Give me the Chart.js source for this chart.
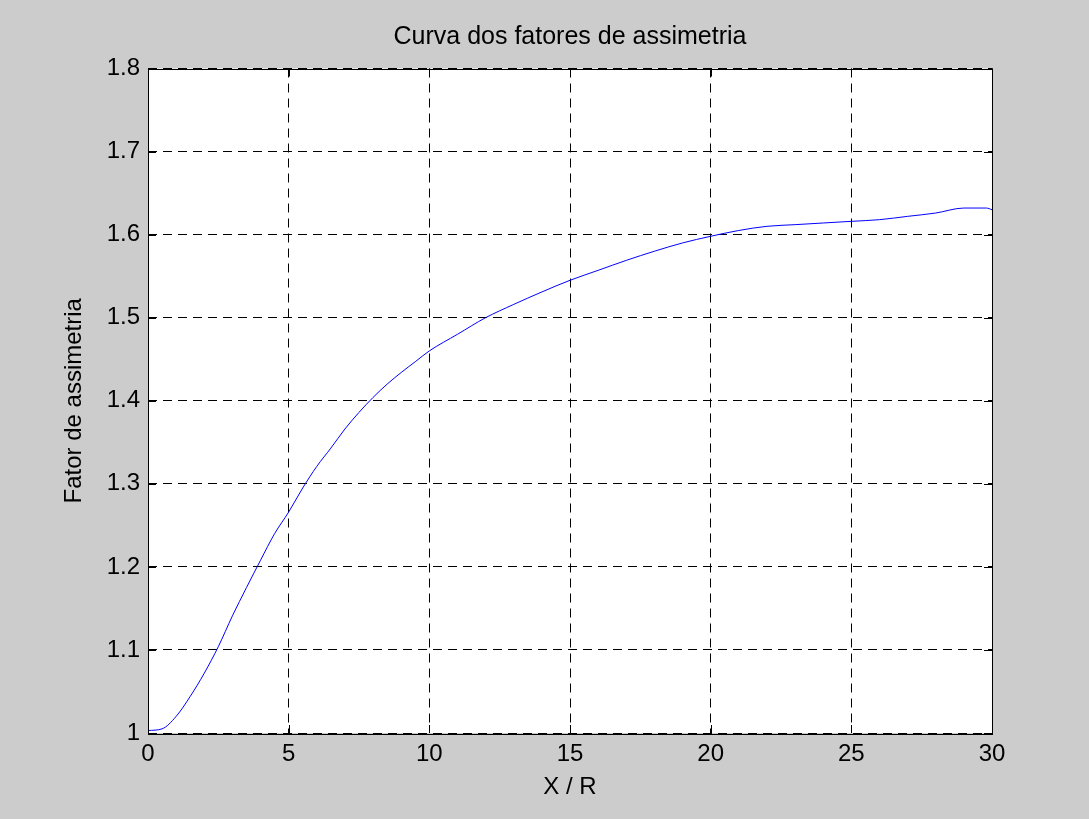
<!DOCTYPE html>
<html lang="pt">
<head>
    <meta charset="UTF-8">
    <title>Curva dos fatores de assimetria</title>
    <script src="https://cdn.jsdelivr.net/npm/chart.js"></script>
    <style>
        html, body { margin: 0; padding: 0; background: #cccccc; }
        #wrap { width: 1089px; height: 819px; }
    </style>
</head>
<body>
    <div id="wrap"><canvas id="chart"></canvas></div>

    <script>
        // valores
        const xValues = [0, 0.5, 1, 1.5, 2, 2.5, 3, 3.5, 4, 4.5, 5, 5.5, 6, 6.5, 7, 7.5, 8, 8.5, 9, 9.5,
                         10, 11, 12, 13, 14, 15, 16, 17, 18, 19, 20, 21, 22, 23, 24, 25, 26, 27, 28, 29, 29.8, 30];
        const fatorValues = [1.003, 1.005, 1.020, 1.044, 1.072, 1.104, 1.141, 1.175, 1.208, 1.240,
                             1.266, 1.295, 1.321, 1.343, 1.366, 1.386, 1.404, 1.420, 1.434, 1.447,
                             1.460, 1.480, 1.500, 1.516, 1.531, 1.545, 1.557, 1.569, 1.580, 1.590,
                             1.598, 1.605, 1.610, 1.612, 1.614, 1.616, 1.618, 1.622, 1.626, 1.632, 1.632, 1.630];
        const xTickLabels = ["0", "5", "10", "15", "20", "25", "30"];
        const yTickLabels = ["1", "1.1", "1.2", "1.3", "1.4", "1.5", "1.6", "1.7", "1.8"];

        const fontFamily = "'Liberation Sans', Arial, sans-serif";

        // fundo cinza, area branca, caixa e marcas internas (estilo matlab)
        const axesBox = {
            id: "axesBox",
            beforeDraw(chart) {
                const ctx = chart.ctx, a = chart.chartArea;
                ctx.save();
                ctx.fillStyle = "#cccccc";
                ctx.fillRect(0, 0, chart.width, chart.height);
                ctx.fillStyle = "#ffffff";
                ctx.fillRect(a.left, a.top, a.right - a.left, a.bottom - a.top);
                ctx.restore();
            },
            afterDraw(chart) {
                const ctx = chart.ctx, a = chart.chartArea;
                const xs = chart.scales.x, ys = chart.scales.y;
                const len = 8;
                ctx.save();
                ctx.strokeStyle = "#000";
                ctx.lineWidth = 1;
                ctx.beginPath();
                xs.ticks.forEach(t => {
                    const px = Math.round(xs.getPixelForValue(t.value)) + 0.5;
                    ctx.moveTo(px, a.bottom); ctx.lineTo(px, a.bottom - len);
                    ctx.moveTo(px, a.top); ctx.lineTo(px, a.top + len);
                });
                ys.ticks.forEach(t => {
                    const py = Math.round(ys.getPixelForValue(t.value)) + 0.5;
                    ctx.moveTo(a.left, py); ctx.lineTo(a.left + len, py);
                    ctx.moveTo(a.right, py); ctx.lineTo(a.right - len, py);
                });
                ctx.stroke();
                ctx.strokeRect(Math.round(a.left) + 0.5, Math.round(a.top) + 0.5,
                               Math.round(a.right - a.left), Math.round(a.bottom - a.top));
                ctx.restore();
            }
        };

        const points = xValues.map((x, i) => ({ x: x, y: fatorValues[i] }));

        new Chart(document.getElementById("chart"), {
            type: "line",
            data: {
                datasets: [{
                    data: points,
                    borderColor: "#0000ff",
                    borderWidth: 1,
                    pointRadius: 0,
                    cubicInterpolationMode: "monotone",
                    fill: false
                }]
            },
            options: {
                responsive: true,
                maintainAspectRatio: false,
                animation: false,
                layout: { padding: { left: 0, right: 97, top: 0, bottom: 0 } },
                plugins: {
                    legend: { display: false },
                    tooltip: { enabled: false },
                    title: {
                        display: true,
                        fullSize: false,
                        text: "Curva dos fatores de assimetria",
                        color: "#000",
                        font: { family: fontFamily, size: 25, weight: "normal", lineHeight: 1.2 },
                        padding: { top: 22, bottom: 16.5 }
                    }
                },
                scales: {
                    x: {
                        type: "linear",
                        min: 0,
                        max: 30,
                        afterFit(scale) { scale.height = 86; },
                        ticks: {
                            stepSize: 5,
                            padding: 7,
                            color: "#000",
                            font: { family: fontFamily, size: 24 },
                            callback: (v, i) => xTickLabels[i]
                        },
                        grid: { color: "#000", lineWidth: 1, drawTicks: false },
                        border: { display: false, dash: [9, 6] },
                        title: {
                            display: true,
                            text: "X / R",
                            color: "#000",
                            font: { family: fontFamily, size: 24, lineHeight: 1.2 },
                            padding: { top: 0, bottom: 17 }
                        }
                    },
                    y: {
                        min: 1,
                        max: 1.8,
                        afterFit(scale) { scale.width = 148; },
                        ticks: {
                            stepSize: 0.1,
                            padding: 8,
                            color: "#000",
                            font: { family: fontFamily, size: 24 },
                            callback: (v, i) => yTickLabels[i]
                        },
                        grid: { color: "#000", lineWidth: 1, drawTicks: false },
                        border: { display: false, dash: [9, 6] },
                        title: {
                            display: true,
                            text: "Fator de assimetria",
                            color: "#000",
                            font: { family: fontFamily, size: 24, lineHeight: 1.2 },
                            padding: { top: 59.6, bottom: 0 }
                        }
                    }
                }
            },
            plugins: [axesBox]
        });
    </script>
</body>
</html>
